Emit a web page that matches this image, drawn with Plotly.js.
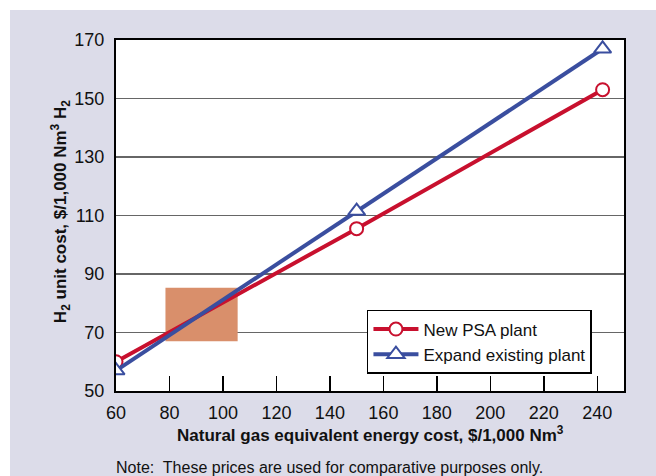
<!DOCTYPE html>
<html>
<head>
<meta charset="utf-8">
<script src="https://cdn.plot.ly/plotly-3.0.1.min.js"></script>
<style>
  html, body { margin: 0; padding: 0; background: #ffffff; }
  #chart { width: 656px; height: 476px; }
</style>
</head>
<body>
<div id="chart"></div>
<script>
// ---- data ----
const gasCost = [60, 150, 242];               // $/1,000 Nm3
const newPSA = [60, 105.5, 153];              // H2 unit cost
const expandExisting = [57, 111.5, 167];      // H2 unit cost
const seriesNames = ["New PSA plant", "Expand existing plant"];
const shadeX = [78.5, 105.5];                 // highlighted region (gas cost)
const shadeY = [67, 85.3];                    // highlighted region (H2 cost)
const xTicks = [60, 80, 100, 120, 140, 160, 180, 200, 220, 240];
const yTicks = [50, 70, 90, 110, 130, 150, 170];

const FONT = "'Liberation Sans', Arial, sans-serif";
const RED = "#c8102e";
const BLUE = "#3a4e9f";
const LAV = "#dcdce9";

const traces = [
  {
    x: [shadeX[0], shadeX[1], shadeX[1], shadeX[0], shadeX[0]],
    y: [shadeY[0], shadeY[0], shadeY[1], shadeY[1], shadeY[0]],
    mode: "lines", fill: "toself", fillcolor: "#d98f6b",
    line: { width: 0, color: "#d98f6b" },
    showlegend: false, hoverinfo: "skip"
  },
  {
    x: gasCost, y: newPSA, name: seriesNames[0],
    mode: "lines+markers",
    line: { color: RED, width: 4 },
    marker: { symbol: "circle", size: 13, color: "#ffffff", line: { color: RED, width: 2 } }
  },
  {
    x: gasCost, y: expandExisting, name: seriesNames[1],
    mode: "lines+markers",
    line: { color: BLUE, width: 4 },
    marker: { symbol: "triangle-up", size: 15, color: "#ffffff", line: { color: BLUE, width: 2 } }
  }
];

const layout = {
  width: 656, height: 476,
  margin: { l: 116, r: 32, t: 40, b: 85 },
  paper_bgcolor: LAV,
  plot_bgcolor: "#ffffff",
  font: { family: FONT, color: "#111111", size: 18 },
  showlegend: true,
  legend: {
    x: 0.494, y: 0.2308, xanchor: "left", yanchor: "top",
    bgcolor: "#ffffff", bordercolor: "#000000", borderwidth: 1.5,
    font: { family: FONT, size: 17, color: "#111111" },
    tracegroupgap: 0, itemwidth: 45
  },
  xaxis: {
    range: [60, 250], tickvals: xTicks, ticktext: xTicks.map(String),
    ticks: "inside", ticklen: 15, tickwidth: 1.5, tickcolor: "#000000",
    showgrid: false, zeroline: false,
    showline: true, linecolor: "#000000", linewidth: 2, mirror: true,
    tickfont: { family: FONT, size: 18, color: "#111111" },
    ticklabelstandoff: 4
  },
  yaxis: {
    range: [50, 170], tickvals: yTicks, ticktext: yTicks.map(String),
    ticks: "", showgrid: true, gridcolor: "#666666", gridwidth: 1.5,
    zeroline: false,
    showline: true, linecolor: "#000000", linewidth: 2, mirror: true,
    tickfont: { family: FONT, size: 18, color: "#111111" },
    ticklabelstandoff: 6
  },
  shapes: [
    { type: "rect", xref: "paper", yref: "paper", x0: -0.5, x1: 1.5, y0: 1.0855, y1: 1.3,
      fillcolor: "#ffffff", line: { width: 0 }, layer: "below" },
    { type: "rect", xref: "paper", yref: "paper", x0: -0.5, x1: -0.2087, y0: -0.5, y1: 1.3,
      fillcolor: "#ffffff", line: { width: 0 }, layer: "below" }
  ],
  annotations: [
    { text: "Natural gas equivalent energy cost, $/1,000 Nm<sup>3</sup>",
      xref: "paper", yref: "paper", x: 0.5, y: -0.1225, xanchor: "center", yanchor: "middle",
      showarrow: false, font: { family: FONT, size: 17, color: "#111111", weight: "bold" } },
    { text: "H<sub>2</sub> unit cost, $/1,000 Nm<sup>3</sup> H<sub>2</sub>",
      xref: "paper", yref: "paper", x: -0.108, y: 0.51, xanchor: "center", yanchor: "middle",
      textangle: -90, showarrow: false,
      font: { family: FONT, size: 17, color: "#111111", weight: "bold" } },
    { text: "Note:  These prices are used for comparative purposes only.",
      xref: "paper", yref: "paper", x: -0.004, y: -0.219, xanchor: "left", yanchor: "middle",
      showarrow: false, font: { family: FONT, size: 16, color: "#111111" } }
  ]
};

Plotly.newPlot("chart", traces, layout, { displayModeBar: false, staticPlot: true });
</script>
</body>
</html>
